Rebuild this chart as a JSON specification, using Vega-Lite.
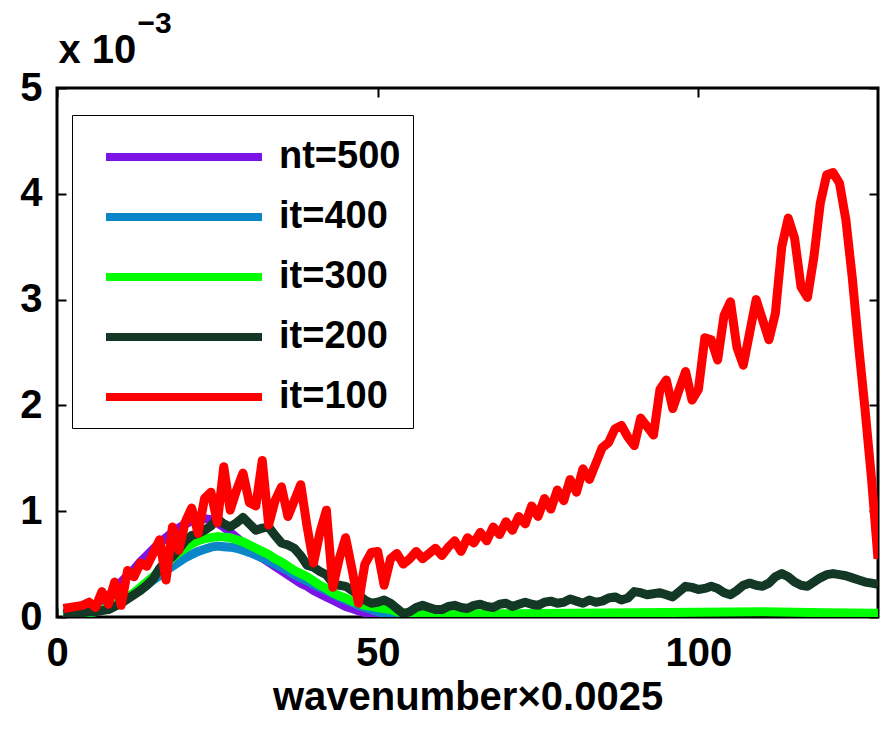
{
  "$schema": "https://vega.github.io/schema/vega-lite/v6.json",
  "width": 821,
  "height": 529,
  "autosize": {"type": "none"},
  "padding": {"left": 57, "top": 88, "right": 4, "bottom": 112},
  "background": "white",
  "config": {
    "font": "Liberation Sans",
    "view": {"stroke": "black", "strokeWidth": 3},
    "axis": {"grid": false, "domain": false, "tickColor": "black", "tickWidth": 2, "tickSize": -9, "labelColor": "black", "titleColor": "black", "labelFont": "Liberation Sans", "titleFont": "Liberation Sans", "labelFontWeight": "bold", "titleFontWeight": "bold", "labelFlush": false}
  },
  "data": {"values": [
    {"k":1,"v":0.03,"s":"nt=500"},{"k":2,"v":0.04,"s":"nt=500"},{"k":3,"v":0.05,"s":"nt=500"},{"k":4,"v":0.07,"s":"nt=500"},{"k":5,"v":0.09,"s":"nt=500"},{"k":6,"v":0.12,"s":"nt=500"},{"k":7,"v":0.15,"s":"nt=500"},{"k":8,"v":0.20,"s":"nt=500"},{"k":9,"v":0.26,"s":"nt=500"},{"k":10,"v":0.33,"s":"nt=500"},{"k":11,"v":0.39,"s":"nt=500"},{"k":12,"v":0.45,"s":"nt=500"},{"k":13,"v":0.52,"s":"nt=500"},{"k":14,"v":0.58,"s":"nt=500"},{"k":15,"v":0.64,"s":"nt=500"},{"k":16,"v":0.70,"s":"nt=500"},{"k":17,"v":0.75,"s":"nt=500"},{"k":18,"v":0.80,"s":"nt=500"},{"k":19,"v":0.84,"s":"nt=500"},{"k":20,"v":0.88,"s":"nt=500"},{"k":21,"v":0.91,"s":"nt=500"},{"k":22,"v":0.93,"s":"nt=500"},{"k":23,"v":0.93,"s":"nt=500"},{"k":24,"v":0.92,"s":"nt=500"},{"k":25,"v":0.89,"s":"nt=500"},{"k":26,"v":0.85,"s":"nt=500"},{"k":27,"v":0.80,"s":"nt=500"},{"k":28,"v":0.75,"s":"nt=500"},{"k":29,"v":0.70,"s":"nt=500"},{"k":30,"v":0.65,"s":"nt=500"},{"k":31,"v":0.60,"s":"nt=500"},{"k":32,"v":0.56,"s":"nt=500"},{"k":33,"v":0.52,"s":"nt=500"},{"k":34,"v":0.48,"s":"nt=500"},{"k":35,"v":0.44,"s":"nt=500"},{"k":36,"v":0.40,"s":"nt=500"},{"k":37,"v":0.36,"s":"nt=500"},{"k":38,"v":0.32,"s":"nt=500"},{"k":39,"v":0.29,"s":"nt=500"},{"k":40,"v":0.25,"s":"nt=500"},{"k":41,"v":0.22,"s":"nt=500"},{"k":42,"v":0.19,"s":"nt=500"},{"k":43,"v":0.16,"s":"nt=500"},{"k":44,"v":0.13,"s":"nt=500"},{"k":45,"v":0.10,"s":"nt=500"},{"k":46,"v":0.08,"s":"nt=500"},{"k":47,"v":0.06,"s":"nt=500"},{"k":48,"v":0.04,"s":"nt=500"},{"k":49,"v":0.03,"s":"nt=500"},{"k":50,"v":0.02,"s":"nt=500"},{"k":51,"v":0.01,"s":"nt=500"},{"k":52,"v":0.01,"s":"nt=500"},{"k":53,"v":0.0,"s":"nt=500"},{"k":54,"v":0.0,"s":"nt=500"},
    {"k":1,"v":0.01,"s":"it=400"},{"k":2,"v":0.02,"s":"it=400"},{"k":3,"v":0.02,"s":"it=400"},{"k":4,"v":0.03,"s":"it=400"},{"k":5,"v":0.04,"s":"it=400"},{"k":6,"v":0.05,"s":"it=400"},{"k":7,"v":0.07,"s":"it=400"},{"k":8,"v":0.09,"s":"it=400"},{"k":9,"v":0.11,"s":"it=400"},{"k":10,"v":0.14,"s":"it=400"},{"k":11,"v":0.18,"s":"it=400"},{"k":12,"v":0.22,"s":"it=400"},{"k":13,"v":0.26,"s":"it=400"},{"k":14,"v":0.30,"s":"it=400"},{"k":15,"v":0.35,"s":"it=400"},{"k":16,"v":0.39,"s":"it=400"},{"k":17,"v":0.44,"s":"it=400"},{"k":18,"v":0.48,"s":"it=400"},{"k":19,"v":0.52,"s":"it=400"},{"k":20,"v":0.56,"s":"it=400"},{"k":21,"v":0.59,"s":"it=400"},{"k":22,"v":0.62,"s":"it=400"},{"k":23,"v":0.64,"s":"it=400"},{"k":24,"v":0.66,"s":"it=400"},{"k":25,"v":0.67,"s":"it=400"},{"k":26,"v":0.665,"s":"it=400"},{"k":27,"v":0.66,"s":"it=400"},{"k":28,"v":0.65,"s":"it=400"},{"k":29,"v":0.63,"s":"it=400"},{"k":30,"v":0.61,"s":"it=400"},{"k":31,"v":0.585,"s":"it=400"},{"k":32,"v":0.56,"s":"it=400"},{"k":33,"v":0.53,"s":"it=400"},{"k":34,"v":0.50,"s":"it=400"},{"k":35,"v":0.47,"s":"it=400"},{"k":36,"v":0.44,"s":"it=400"},{"k":37,"v":0.40,"s":"it=400"},{"k":38,"v":0.37,"s":"it=400"},{"k":39,"v":0.34,"s":"it=400"},{"k":40,"v":0.31,"s":"it=400"},{"k":41,"v":0.28,"s":"it=400"},{"k":42,"v":0.25,"s":"it=400"},{"k":43,"v":0.22,"s":"it=400"},{"k":44,"v":0.19,"s":"it=400"},{"k":45,"v":0.16,"s":"it=400"},{"k":46,"v":0.14,"s":"it=400"},{"k":47,"v":0.11,"s":"it=400"},{"k":48,"v":0.09,"s":"it=400"},{"k":49,"v":0.07,"s":"it=400"},{"k":50,"v":0.05,"s":"it=400"},{"k":51,"v":0.035,"s":"it=400"},{"k":52,"v":0.02,"s":"it=400"},{"k":53,"v":0.01,"s":"it=400"},{"k":54,"v":0.01,"s":"it=400"},{"k":55,"v":0.0,"s":"it=400"},{"k":56,"v":0.0,"s":"it=400"},
    {"k":1,"v":0.01,"s":"it=300"},{"k":2,"v":0.02,"s":"it=300"},{"k":3,"v":0.02,"s":"it=300"},{"k":4,"v":0.03,"s":"it=300"},{"k":5,"v":0.04,"s":"it=300"},{"k":6,"v":0.05,"s":"it=300"},{"k":7,"v":0.07,"s":"it=300"},{"k":8,"v":0.09,"s":"it=300"},{"k":9,"v":0.12,"s":"it=300"},{"k":10,"v":0.15,"s":"it=300"},{"k":11,"v":0.19,"s":"it=300"},{"k":12,"v":0.23,"s":"it=300"},{"k":13,"v":0.28,"s":"it=300"},{"k":14,"v":0.33,"s":"it=300"},{"k":15,"v":0.38,"s":"it=300"},{"k":16,"v":0.44,"s":"it=300"},{"k":17,"v":0.50,"s":"it=300"},{"k":18,"v":0.56,"s":"it=300"},{"k":19,"v":0.61,"s":"it=300"},{"k":20,"v":0.65,"s":"it=300"},{"k":21,"v":0.69,"s":"it=300"},{"k":22,"v":0.72,"s":"it=300"},{"k":23,"v":0.74,"s":"it=300"},{"k":24,"v":0.75,"s":"it=300"},{"k":25,"v":0.76,"s":"it=300"},{"k":26,"v":0.755,"s":"it=300"},{"k":27,"v":0.75,"s":"it=300"},{"k":28,"v":0.73,"s":"it=300"},{"k":29,"v":0.71,"s":"it=300"},{"k":30,"v":0.68,"s":"it=300"},{"k":31,"v":0.65,"s":"it=300"},{"k":32,"v":0.62,"s":"it=300"},{"k":33,"v":0.59,"s":"it=300"},{"k":34,"v":0.55,"s":"it=300"},{"k":35,"v":0.52,"s":"it=300"},{"k":36,"v":0.48,"s":"it=300"},{"k":37,"v":0.44,"s":"it=300"},{"k":38,"v":0.41,"s":"it=300"},{"k":39,"v":0.38,"s":"it=300"},{"k":40,"v":0.34,"s":"it=300"},{"k":41,"v":0.30,"s":"it=300"},{"k":42,"v":0.27,"s":"it=300"},{"k":43,"v":0.23,"s":"it=300"},{"k":44,"v":0.20,"s":"it=300"},{"k":45,"v":0.18,"s":"it=300"},{"k":46,"v":0.15,"s":"it=300"},{"k":47,"v":0.13,"s":"it=300"},{"k":48,"v":0.11,"s":"it=300"},{"k":49,"v":0.10,"s":"it=300"},{"k":50,"v":0.09,"s":"it=300"},{"k":51,"v":0.08,"s":"it=300"},{"k":52,"v":0.07,"s":"it=300"},{"k":53,"v":0.05,"s":"it=300"},{"k":54,"v":0.04,"s":"it=300"},{"k":56,"v":0.035,"s":"it=300"},{"k":60,"v":0.03,"s":"it=300"},{"k":65,"v":0.03,"s":"it=300"},{"k":70,"v":0.03,"s":"it=300"},{"k":75,"v":0.032,"s":"it=300"},{"k":80,"v":0.035,"s":"it=300"},{"k":85,"v":0.037,"s":"it=300"},{"k":90,"v":0.04,"s":"it=300"},{"k":95,"v":0.042,"s":"it=300"},{"k":100,"v":0.045,"s":"it=300"},{"k":105,"v":0.048,"s":"it=300"},{"k":110,"v":0.05,"s":"it=300"},{"k":115,"v":0.045,"s":"it=300"},{"k":120,"v":0.04,"s":"it=300"},{"k":124,"v":0.037,"s":"it=300"},{"k":128,"v":0.035,"s":"it=300"},
    {"k":1,"v":0.04,"s":"it=200"},{"k":2,"v":0.04,"s":"it=200"},{"k":3,"v":0.04,"s":"it=200"},{"k":4,"v":0.04,"s":"it=200"},{"k":5,"v":0.05,"s":"it=200"},{"k":6,"v":0.05,"s":"it=200"},{"k":7,"v":0.06,"s":"it=200"},{"k":8,"v":0.07,"s":"it=200"},{"k":9,"v":0.10,"s":"it=200"},{"k":10,"v":0.13,"s":"it=200"},{"k":11,"v":0.17,"s":"it=200"},{"k":12,"v":0.21,"s":"it=200"},{"k":13,"v":0.25,"s":"it=200"},{"k":14,"v":0.30,"s":"it=200"},{"k":15,"v":0.36,"s":"it=200"},{"k":16,"v":0.46,"s":"it=200"},{"k":17,"v":0.53,"s":"it=200"},{"k":18,"v":0.57,"s":"it=200"},{"k":19,"v":0.64,"s":"it=200"},{"k":20,"v":0.72,"s":"it=200"},{"k":21,"v":0.77,"s":"it=200"},{"k":22,"v":0.79,"s":"it=200"},{"k":23,"v":0.82,"s":"it=200"},{"k":24,"v":0.86,"s":"it=200"},{"k":25,"v":0.93,"s":"it=200"},{"k":26,"v":0.88,"s":"it=200"},{"k":27,"v":0.85,"s":"it=200"},{"k":28,"v":0.89,"s":"it=200"},{"k":29,"v":0.94,"s":"it=200"},{"k":30,"v":0.88,"s":"it=200"},{"k":31,"v":0.82,"s":"it=200"},{"k":32,"v":0.84,"s":"it=200"},{"k":33,"v":0.85,"s":"it=200"},{"k":34,"v":0.77,"s":"it=200"},{"k":35,"v":0.70,"s":"it=200"},{"k":36,"v":0.68,"s":"it=200"},{"k":37,"v":0.65,"s":"it=200"},{"k":38,"v":0.58,"s":"it=200"},{"k":39,"v":0.49,"s":"it=200"},{"k":40,"v":0.47,"s":"it=200"},{"k":41,"v":0.43,"s":"it=200"},{"k":42,"v":0.40,"s":"it=200"},{"k":43,"v":0.32,"s":"it=200"},{"k":44,"v":0.30,"s":"it=200"},{"k":45,"v":0.29,"s":"it=200"},{"k":46,"v":0.25,"s":"it=200"},{"k":47,"v":0.21,"s":"it=200"},{"k":48,"v":0.16,"s":"it=200"},{"k":49,"v":0.13,"s":"it=200"},{"k":50,"v":0.14,"s":"it=200"},{"k":51,"v":0.16,"s":"it=200"},{"k":52,"v":0.13,"s":"it=200"},{"k":53,"v":0.08,"s":"it=200"},{"k":54,"v":0.03,"s":"it=200"},{"k":55,"v":0.05,"s":"it=200"},{"k":56,"v":0.09,"s":"it=200"},{"k":57,"v":0.11,"s":"it=200"},{"k":58,"v":0.09,"s":"it=200"},{"k":59,"v":0.07,"s":"it=200"},{"k":60,"v":0.07,"s":"it=200"},{"k":61,"v":0.10,"s":"it=200"},{"k":62,"v":0.11,"s":"it=200"},{"k":63,"v":0.09,"s":"it=200"},{"k":64,"v":0.08,"s":"it=200"},{"k":65,"v":0.11,"s":"it=200"},{"k":66,"v":0.12,"s":"it=200"},{"k":67,"v":0.10,"s":"it=200"},{"k":68,"v":0.09,"s":"it=200"},{"k":69,"v":0.12,"s":"it=200"},{"k":70,"v":0.13,"s":"it=200"},{"k":71,"v":0.10,"s":"it=200"},{"k":72,"v":0.12,"s":"it=200"},{"k":73,"v":0.14,"s":"it=200"},{"k":74,"v":0.12,"s":"it=200"},{"k":75,"v":0.11,"s":"it=200"},{"k":76,"v":0.14,"s":"it=200"},{"k":77,"v":0.15,"s":"it=200"},{"k":78,"v":0.13,"s":"it=200"},{"k":79,"v":0.14,"s":"it=200"},{"k":80,"v":0.17,"s":"it=200"},{"k":81,"v":0.15,"s":"it=200"},{"k":82,"v":0.13,"s":"it=200"},{"k":83,"v":0.16,"s":"it=200"},{"k":84,"v":0.14,"s":"it=200"},{"k":85,"v":0.15,"s":"it=200"},{"k":86,"v":0.18,"s":"it=200"},{"k":87,"v":0.19,"s":"it=200"},{"k":88,"v":0.16,"s":"it=200"},{"k":89,"v":0.18,"s":"it=200"},{"k":90,"v":0.24,"s":"it=200"},{"k":91,"v":0.23,"s":"it=200"},{"k":92,"v":0.21,"s":"it=200"},{"k":93,"v":0.22,"s":"it=200"},{"k":94,"v":0.23,"s":"it=200"},{"k":95,"v":0.21,"s":"it=200"},{"k":96,"v":0.19,"s":"it=200"},{"k":97,"v":0.24,"s":"it=200"},{"k":98,"v":0.29,"s":"it=200"},{"k":99,"v":0.28,"s":"it=200"},{"k":100,"v":0.26,"s":"it=200"},{"k":101,"v":0.27,"s":"it=200"},{"k":102,"v":0.29,"s":"it=200"},{"k":103,"v":0.27,"s":"it=200"},{"k":104,"v":0.23,"s":"it=200"},{"k":105,"v":0.21,"s":"it=200"},{"k":106,"v":0.25,"s":"it=200"},{"k":107,"v":0.30,"s":"it=200"},{"k":108,"v":0.32,"s":"it=200"},{"k":109,"v":0.30,"s":"it=200"},{"k":110,"v":0.29,"s":"it=200"},{"k":111,"v":0.32,"s":"it=200"},{"k":112,"v":0.38,"s":"it=200"},{"k":113,"v":0.41,"s":"it=200"},{"k":114,"v":0.38,"s":"it=200"},{"k":115,"v":0.33,"s":"it=200"},{"k":116,"v":0.30,"s":"it=200"},{"k":117,"v":0.29,"s":"it=200"},{"k":118,"v":0.33,"s":"it=200"},{"k":119,"v":0.37,"s":"it=200"},{"k":120,"v":0.40,"s":"it=200"},{"k":121,"v":0.41,"s":"it=200"},{"k":122,"v":0.40,"s":"it=200"},{"k":123,"v":0.39,"s":"it=200"},{"k":124,"v":0.37,"s":"it=200"},{"k":125,"v":0.35,"s":"it=200"},{"k":126,"v":0.33,"s":"it=200"},{"k":127,"v":0.32,"s":"it=200"},{"k":128,"v":0.31,"s":"it=200"},
    {"k":1,"v":0.08,"s":"it=100"},{"k":2,"v":0.09,"s":"it=100"},{"k":3,"v":0.10,"s":"it=100"},{"k":4,"v":0.11,"s":"it=100"},{"k":5,"v":0.14,"s":"it=100"},{"k":6,"v":0.09,"s":"it=100"},{"k":7,"v":0.24,"s":"it=100"},{"k":8,"v":0.12,"s":"it=100"},{"k":9,"v":0.33,"s":"it=100"},{"k":10,"v":0.11,"s":"it=100"},{"k":11,"v":0.44,"s":"it=100"},{"k":12,"v":0.38,"s":"it=100"},{"k":13,"v":0.51,"s":"it=100"},{"k":14,"v":0.48,"s":"it=100"},{"k":15,"v":0.60,"s":"it=100"},{"k":16,"v":0.73,"s":"it=100"},{"k":17,"v":0.35,"s":"it=100"},{"k":18,"v":0.85,"s":"it=100"},{"k":19,"v":0.63,"s":"it=100"},{"k":20,"v":0.90,"s":"it=100"},{"k":21,"v":1.03,"s":"it=100"},{"k":22,"v":0.79,"s":"it=100"},{"k":23,"v":1.12,"s":"it=100"},{"k":24,"v":1.18,"s":"it=100"},{"k":25,"v":0.89,"s":"it=100"},{"k":26,"v":1.42,"s":"it=100"},{"k":27,"v":1.01,"s":"it=100"},{"k":28,"v":1.20,"s":"it=100"},{"k":29,"v":1.36,"s":"it=100"},{"k":30,"v":1.08,"s":"it=100"},{"k":31,"v":1.05,"s":"it=100"},{"k":32,"v":1.48,"s":"it=100"},{"k":33,"v":0.87,"s":"it=100"},{"k":34,"v":1.10,"s":"it=100"},{"k":35,"v":1.23,"s":"it=100"},{"k":36,"v":0.95,"s":"it=100"},{"k":37,"v":1.10,"s":"it=100"},{"k":38,"v":1.25,"s":"it=100"},{"k":39,"v":0.85,"s":"it=100"},{"k":40,"v":0.51,"s":"it=100"},{"k":41,"v":0.80,"s":"it=100"},{"k":42,"v":1.01,"s":"it=100"},{"k":43,"v":0.28,"s":"it=100"},{"k":44,"v":0.55,"s":"it=100"},{"k":45,"v":0.75,"s":"it=100"},{"k":46,"v":0.45,"s":"it=100"},{"k":47,"v":0.13,"s":"it=100"},{"k":48,"v":0.50,"s":"it=100"},{"k":49,"v":0.61,"s":"it=100"},{"k":50,"v":0.62,"s":"it=100"},{"k":51,"v":0.30,"s":"it=100"},{"k":52,"v":0.55,"s":"it=100"},{"k":53,"v":0.60,"s":"it=100"},{"k":54,"v":0.50,"s":"it=100"},{"k":55,"v":0.55,"s":"it=100"},{"k":56,"v":0.62,"s":"it=100"},{"k":57,"v":0.55,"s":"it=100"},{"k":58,"v":0.60,"s":"it=100"},{"k":59,"v":0.65,"s":"it=100"},{"k":60,"v":0.58,"s":"it=100"},{"k":61,"v":0.66,"s":"it=100"},{"k":62,"v":0.72,"s":"it=100"},{"k":63,"v":0.62,"s":"it=100"},{"k":64,"v":0.75,"s":"it=100"},{"k":65,"v":0.70,"s":"it=100"},{"k":66,"v":0.80,"s":"it=100"},{"k":67,"v":0.72,"s":"it=100"},{"k":68,"v":0.85,"s":"it=100"},{"k":69,"v":0.78,"s":"it=100"},{"k":70,"v":0.90,"s":"it=100"},{"k":71,"v":0.82,"s":"it=100"},{"k":72,"v":0.95,"s":"it=100"},{"k":73,"v":0.88,"s":"it=100"},{"k":74,"v":1.05,"s":"it=100"},{"k":75,"v":0.95,"s":"it=100"},{"k":76,"v":1.12,"s":"it=100"},{"k":77,"v":1.02,"s":"it=100"},{"k":78,"v":1.20,"s":"it=100"},{"k":79,"v":1.10,"s":"it=100"},{"k":80,"v":1.30,"s":"it=100"},{"k":81,"v":1.18,"s":"it=100"},{"k":82,"v":1.40,"s":"it=100"},{"k":83,"v":1.30,"s":"it=100"},{"k":84,"v":1.45,"s":"it=100"},{"k":85,"v":1.60,"s":"it=100"},{"k":86,"v":1.65,"s":"it=100"},{"k":87,"v":1.78,"s":"it=100"},{"k":88,"v":1.81,"s":"it=100"},{"k":89,"v":1.70,"s":"it=100"},{"k":90,"v":1.62,"s":"it=100"},{"k":91,"v":1.88,"s":"it=100"},{"k":92,"v":1.80,"s":"it=100"},{"k":93,"v":1.72,"s":"it=100"},{"k":94,"v":2.15,"s":"it=100"},{"k":95,"v":2.24,"s":"it=100"},{"k":96,"v":1.97,"s":"it=100"},{"k":97,"v":2.15,"s":"it=100"},{"k":98,"v":2.32,"s":"it=100"},{"k":99,"v":2.05,"s":"it=100"},{"k":100,"v":2.15,"s":"it=100"},{"k":101,"v":2.64,"s":"it=100"},{"k":102,"v":2.62,"s":"it=100"},{"k":103,"v":2.43,"s":"it=100"},{"k":104,"v":2.85,"s":"it=100"},{"k":105,"v":2.98,"s":"it=100"},{"k":106,"v":2.55,"s":"it=100"},{"k":107,"v":2.38,"s":"it=100"},{"k":108,"v":2.69,"s":"it=100"},{"k":109,"v":3.00,"s":"it=100"},{"k":110,"v":2.81,"s":"it=100"},{"k":111,"v":2.62,"s":"it=100"},{"k":112,"v":2.87,"s":"it=100"},{"k":113,"v":3.50,"s":"it=100"},{"k":114,"v":3.77,"s":"it=100"},{"k":115,"v":3.58,"s":"it=100"},{"k":116,"v":3.12,"s":"it=100"},{"k":117,"v":3.02,"s":"it=100"},{"k":118,"v":3.40,"s":"it=100"},{"k":119,"v":3.91,"s":"it=100"},{"k":120,"v":4.18,"s":"it=100"},{"k":121,"v":4.20,"s":"it=100"},{"k":122,"v":4.10,"s":"it=100"},{"k":123,"v":3.75,"s":"it=100"},{"k":124,"v":3.20,"s":"it=100"},{"k":125,"v":2.55,"s":"it=100"},{"k":126,"v":1.95,"s":"it=100"},{"k":127,"v":1.30,"s":"it=100"},{"k":128,"v":0.55,"s":"it=100"}
  ]},
  "layer": [
    {
      "mark": {"type": "line", "strokeWidth": 9, "strokeJoin": "round", "strokeCap": "butt", "clip": true},
      "encoding": {
        "x": {"field": "k", "type": "quantitative",
          "scale": {"domain": [0, 128], "nice": false, "zero": false},
          "axis": {"orient": "bottom", "values": [0, 50, 100], "labelFontSize": 40, "labelPadding": 25, "title": "wavenumber×0.0025", "titleFontSize": 40, "titleY": 92, "titleBaseline": "alphabetic"}},
        "y": {"field": "v", "type": "quantitative",
          "scale": {"domain": [0, 5], "nice": false},
          "axis": {"orient": "left", "values": [0, 1, 2, 3, 4, 5], "labelFontSize": 40, "labelPadding": 24, "labelBaseline": "middle", "title": "x 10", "titleFontSize": 40, "titleAngle": 0, "titleAlign": "left", "titleBaseline": "alphabetic", "titleX": 1, "titleY": -26}},
        "color": {"field": "s", "type": "nominal",
          "scale": {"domain": ["nt=500", "it=400", "it=300", "it=200", "it=100"], "range": ["#7B14E4", "#0B86C8", "#00FF00", "#133826", "#FF0000"]},
          "legend": {"orient": "none", "legendX": 15, "legendY": 27, "title": null, "symbolType": "M-3,0H3", "symbolSize": 2704, "symbolStrokeWidth": 8, "symbolOffset": 70, "labelFontSize": 38, "labelFontWeight": "bold", "labelFont": "Liberation Sans", "labelColor": "black", "labelOffset": 65, "labelExpr": "datum.label + '      '", "rowPadding": 11, "padding": 12, "strokeColor": "black", "fillColor": "white"}}
      }
    },
    {
      "mark": {"type": "point", "opacity": 0},
      "encoding": {
        "x": {"datum": 0, "type": "quantitative", "axis": {"orient": "top", "values": [0, 50, 100], "labels": false, "title": "−3", "titleFontSize": 30, "titleAlign": "left", "titleBaseline": "alphabetic", "titleX": 80, "titleY": -56}},
        "y": {"datum": 0, "type": "quantitative", "axis": {"orient": "right", "values": [0, 1, 2, 3, 4, 5], "labels": false, "title": null}}
      }
    }
  ],
  "resolve": {"axis": {"x": "independent", "y": "independent"}}
}
